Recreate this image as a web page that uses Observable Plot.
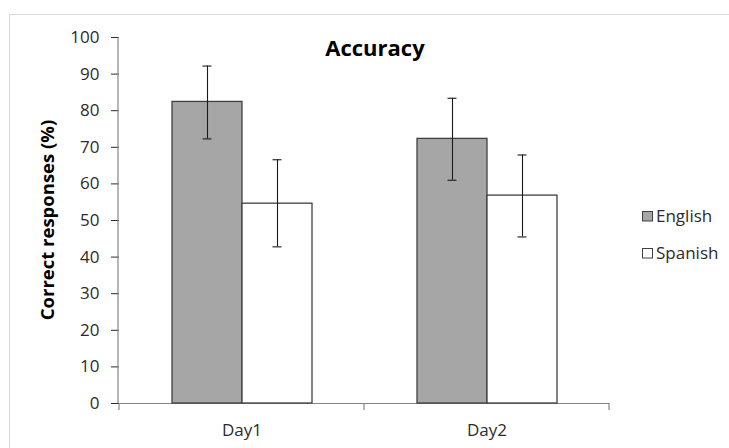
<!DOCTYPE html>
<html>
<head>
<meta charset="utf-8">
<script src="https://cdn.jsdelivr.net/npm/d3@7"></script>
<script src="https://cdn.jsdelivr.net/npm/@observablehq/plot@0.6"></script>
<style>
  html, body { margin: 0; padding: 0; background: #fff; }
  #wrap { position: relative; width: 729px; height: 448px; overflow: hidden; background: #fff; }
  #wrap svg { position: absolute; left: 0; top: 0; }
  g[aria-label="y-axis tick"] { stroke: #868686; }
</style>
</head>
<body>
<div id="wrap"></div>
<script>
// ---- data ----
const days = ["Day1", "Day2"];
const languages = ["English", "Spanish"];
const englishMean = [82.4, 72.3];
const englishLow  = [72.3, 61.0];
const englishHigh = [92.2, 83.4];
const spanishMean = [54.6, 56.8];
const spanishLow  = [42.8, 45.5];
const spanishHigh = [66.6, 67.9];
const yTicks = [0, 10, 20, 30, 40, 50, 60, 70, 80, 90, 100];
const fills = ["#a6a6a6", "#ffffff"];
const titleText = "Accuracy";
const yLabel = "Correct responses (%)";

const rows = [];
days.forEach((d, i) => {
  rows.push({day: d, lang: languages[0], mean: englishMean[i], low: englishLow[i], high: englishHigh[i]});
  rows.push({day: d, lang: languages[1], mean: spanishMean[i], low: spanishLow[i], high: spanishHigh[i]});
});

const font = "'Open Sans', 'DejaVu Sans', sans-serif";
const ink = "#2b2b2b";
const axisGrey = "#868686";

const plot = Plot.plot({
  width: 729,
  height: 448,
  marginLeft: 118,
  marginRight: 120,
  marginTop: 37,
  marginBottom: 45,
  style: {fontFamily: font, fontSize: "17px", color: ink, background: "transparent", overflow: "visible"},
  fx: {domain: days, padding: 0, axis: null},
  x: {domain: languages, paddingInner: 0, paddingOuter: 0.74, axis: null},
  y: {domain: [0, 100], axis: null},
  color: {domain: languages, range: fills},
  marks: [
    Plot.ruleY([0], {stroke: axisGrey, strokeWidth: 1.2}),
    Plot.barY(rows, {fx: "day", x: "lang", y: "mean", fill: "lang", stroke: "#404040", strokeWidth: 1.3}),
    Plot.ruleX(rows, {fx: "day", x: "lang", y1: "low", y2: "high", stroke: "#1a1a1a", strokeWidth: 1.1}),
    Plot.tickY(rows, {fx: "day", x: "lang", y: "low", stroke: "#1a1a1a", strokeWidth: 1.1, insetLeft: 30.5, insetRight: 30.5}),
    Plot.tickY(rows, {fx: "day", x: "lang", y: "high", stroke: "#1a1a1a", strokeWidth: 1.1, insetLeft: 30.5, insetRight: 30.5}),
    Plot.axisY({ticks: yTicks, tickSize: 8, tickPadding: 12, label: null, fill: ink}),
    Plot.axisFx({anchor: "bottom", tickSize: 0, tickPadding: 20, label: null, fill: ink})
  ]
});

document.getElementById("wrap").appendChild(plot);

const svg = d3.select(plot);
const fx = plot.scale("fx");
const y = plot.scale("y");
const y0 = y.apply(0), y100 = y.apply(100);

// outer chart-area border (top & left)
d3.select("#wrap").insert("div", ":first-child")
  .style("position", "absolute").style("left", "9px").style("top", "14px")
  .style("width", "740px").style("height", "460px")
  .style("border-left", "1.5px solid #d9d9d9").style("border-top", "1.5px solid #d9d9d9");

// y axis line
svg.append("line")
  .attr("x1", fx.range[0]).attr("x2", fx.range[0])
  .attr("y1", y100).attr("y2", y0)
  .attr("stroke", axisGrey).attr("stroke-width", 1.2);

// x axis tick marks at category boundaries
const edges = [...days.map(d => fx.apply(d)), fx.apply(days[days.length - 1]) + fx.bandwidth];
svg.append("g").selectAll("line").data(edges).join("line")
  .attr("x1", d => d).attr("x2", d => d)
  .attr("y1", y0).attr("y2", y0 + 7)
  .attr("stroke", axisGrey).attr("stroke-width", 1.2);

// title
svg.append("text")
  .attr("x", 375).attr("y", 56)
  .attr("text-anchor", "middle")
  .attr("font-family", font).attr("font-weight", "bold").attr("font-size", 22)
  .attr("fill", "#000")
  .text(titleText);

// y label
svg.append("text")
  .attr("transform", "translate(54,220) rotate(-90)")
  .attr("text-anchor", "middle")
  .attr("font-family", font).attr("font-weight", "bold").attr("font-size", 18.5)
  .attr("fill", "#000")
  .text(yLabel);

// legend
const legY = [211, 248];
const leg = svg.append("g").attr("text-anchor", "start");
languages.forEach((l, i) => {
  leg.append("rect")
    .attr("x", 642.5).attr("y", legY[i] + 0.5).attr("width", 10).attr("height", 9.5)
    .attr("fill", fills[i]).attr("stroke", "#404040").attr("stroke-width", 1);
  leg.append("text")
    .attr("x", 656).attr("y", legY[i] + 10.5)
    .attr("text-anchor", "start")
    .attr("font-family", font).attr("font-size", 17).attr("fill", ink)
    .text(l);
});
</script>
</body>
</html>
